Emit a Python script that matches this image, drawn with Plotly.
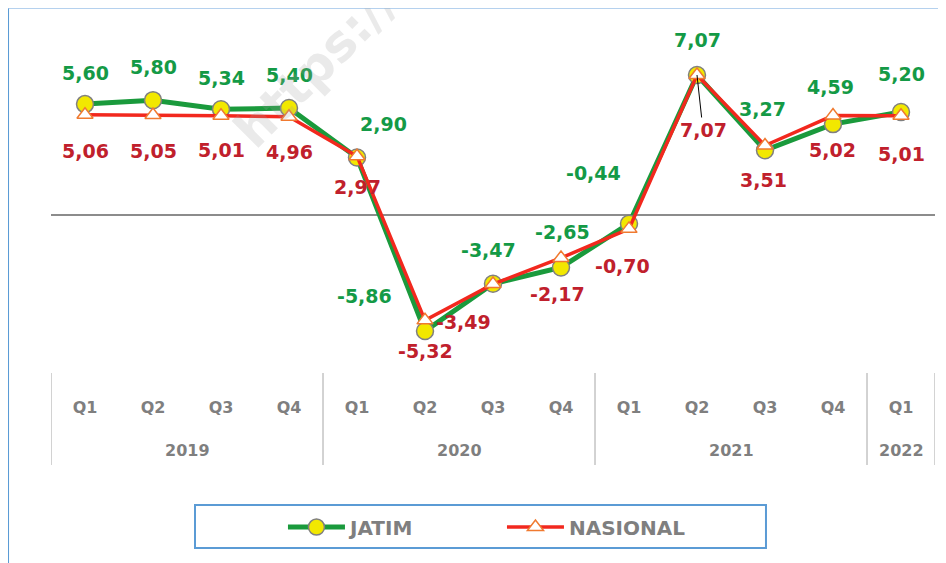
import plotly.graph_objects as go

# data
years = ["2019"] * 4 + ["2020"] * 4 + ["2021"] * 4 + ["2022"]
quarters = ["Q1", "Q2", "Q3", "Q4", "Q1", "Q2", "Q3", "Q4", "Q1", "Q2", "Q3", "Q4", "Q1"]
jatim = [5.60, 5.80, 5.34, 5.40, 2.90, -5.86, -3.47, -2.65, -0.44, 7.07, 3.27, 4.59, 5.20]
nasional = [5.06, 5.05, 5.01, 4.96, 2.97, -5.32, -3.49, -2.17, -0.70, 7.07, 3.51, 5.02, 5.01]

# label offsets in px (xshift, yshift)
jatim_off = [(0, 31), (0, 33), (0, 31), (0, 33), (26, 34), (-61, 35), (-5, 34),
             (1, 35), (-36, 51), (0, 35), (-3, 41), (-3, 37), (0, 38)]
nas_off = [(0, -36), (0, -36), (0, -34), (0, -35), (0, -31), (0, -31), (-30, -38),
           (-4, -36), (-7, -37), (6, -55), (-2, -34), (-1, -34), (0, -38)]

GREEN = "#149a46"
RED_LBL = "#c0202c"
GREY_TXT = "#7f7f7f"
FONT = "DejaVu Sans"


def fmt(v):
    return f"{v:.2f}".replace(".", ",")


idx = list(range(len(quarters)))

fig = go.Figure()
fig.add_trace(go.Scatter(
    x=idx, y=jatim, name="JATIM", mode="lines+markers",
    line=dict(color="#1a9a3c", width=5),
    marker=dict(symbol="circle", size=17, color="#f2e800",
                line=dict(color="#808080", width=1.5)),
))
fig.add_trace(go.Scatter(
    x=idx, y=nasional, name="NASIONAL", mode="lines+markers",
    line=dict(color="#f2281e", width=3.5),
    marker=dict(symbol="triangle-up", size=14, color="white",
                line=dict(color="#f07a30", width=1.5)),
))

annotations = []
for i, v in enumerate(jatim):
    dx, dy = jatim_off[i]
    annotations.append(dict(x=i, y=v, xref="x", yref="y", text=fmt(v),
                            showarrow=False, xshift=dx, yshift=dy,
                            font=dict(family=FONT, size=19, color=GREEN, weight="bold")))
for i, v in enumerate(nasional):
    dx, dy = nas_off[i]
    if i == 9:
        annotations.append(dict(x=i, y=v, xref="x", yref="y", text=fmt(v),
                                showarrow=True, arrowhead=0, arrowwidth=1,
                                arrowcolor="black", ax=dx, ay=-dy,
                                font=dict(family=FONT, size=19, color=RED_LBL, weight="bold")))
    else:
        annotations.append(dict(x=i, y=v, xref="x", yref="y", text=fmt(v),
                                showarrow=False, xshift=dx, yshift=dy,
                                font=dict(family=FONT, size=19, color=RED_LBL, weight="bold")))

# year groups: label at group centre, divider lines at group edges
shapes = []
groups = []
for i, y in enumerate(years):
    if not groups or groups[-1][0] != y:
        groups.append([y, i, i])
    else:
        groups[-1][2] = i
edges = sorted({g[1] - 0.5 for g in groups} | {g[2] + 0.5 for g in groups})
for e in edges:
    shapes.append(dict(type="line", xref="x", yref="paper", x0=e, x1=e,
                       y0=-0.0086, y1=-0.2714, line=dict(color="#a6a6a6", width=1)))
for name, a, b in groups:
    annotations.append(dict(x=(a + b) / 2, y=-0.2286, xref="x", yref="paper", text=name,
                            showarrow=False, yanchor="middle",
                            font=dict(family=FONT, size=16, color=GREY_TXT, weight="bold")))

# watermark
annotations.append(dict(x=0.30, y=0.87, xref="paper", yref="paper", text="https://",
                        showarrow=False, textangle=-45, xanchor="center", yanchor="middle",
                        font=dict(family=FONT, size=50, color="rgba(160,160,160,0.22)",
                                  weight="bold")))

# legend frame and outer border
shapes += [
    dict(type="rect", xref="paper", yref="paper", x0=0.1629, x1=0.8088,
         y0=-0.5086, y1=-0.3857, line=dict(color="#5b9bd5", width=2)),
    dict(type="line", xref="paper", yref="paper", x0=-0.0486, x1=-0.0486,
         y0=-0.6, y1=1.0343, line=dict(color="#5b9bd5", width=2)),
    dict(type="line", xref="paper", yref="paper", x0=-0.0486, x1=1.02,
         y0=1.0343, y1=1.0343, line=dict(color="#9cc2e8", width=1.5)),
]

fig.update_layout(
    width=938, height=555,
    margin=dict(l=43, r=11, t=12, b=193),
    paper_bgcolor="white", plot_bgcolor="white",
    showlegend=True,
    legend=dict(orientation="h", x=0.2624, xanchor="left", y=-0.4486, yanchor="middle",
                font=dict(family=FONT, size=20, color=GREY_TXT, weight="bold"),
                bgcolor="rgba(0,0,0,0)", entrywidth=147, itemwidth=57),
    xaxis=dict(range=[-0.5, len(quarters) - 0.5], showgrid=False, zeroline=False,
               showline=False, ticks="", tickvals=idx, ticktext=quarters,
               ticklabelstandoff=26,
               tickfont=dict(family=FONT, size=16, color=GREY_TXT, weight="bold")),
    yaxis=dict(range=[-7.828, 9.848], showgrid=False, showticklabels=False,
               zeroline=True, zerolinecolor="#8c8c8c", zerolinewidth=1.5, showline=False),
    annotations=annotations,
    shapes=shapes,
)

fig.write_html("out.html")
